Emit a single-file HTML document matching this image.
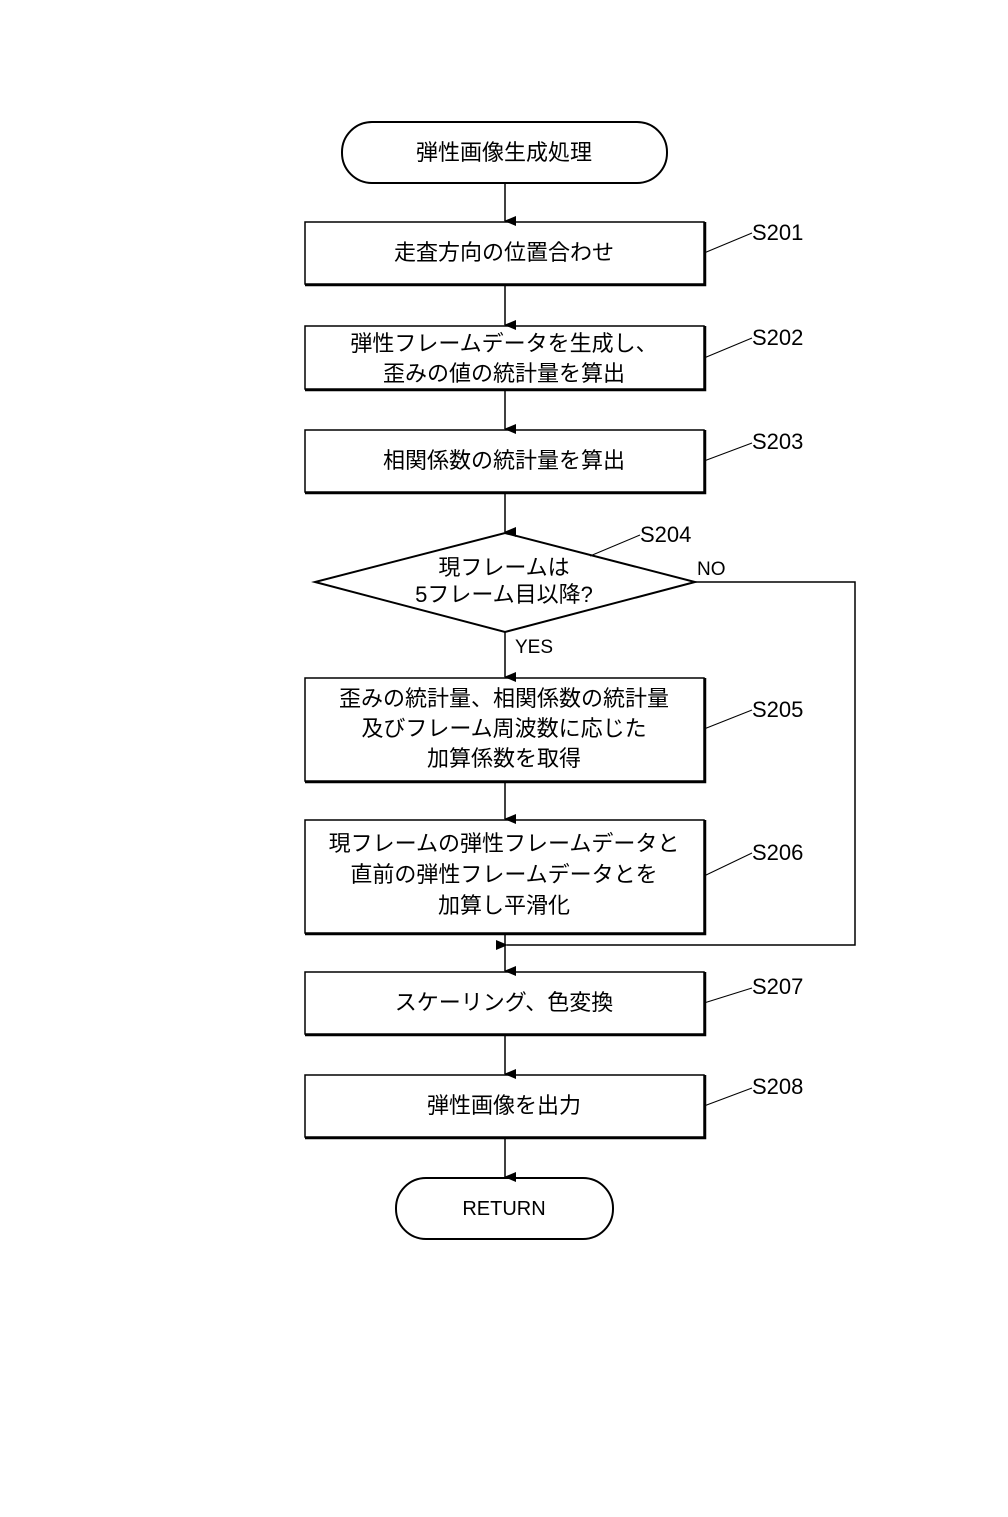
<!DOCTYPE html>
<html><head><meta charset="utf-8"><style>
html,body{margin:0;padding:0;background:#fff;}
svg text{font-family:"Liberation Sans","Noto Sans CJK JP",sans-serif;fill:#000;}
</style></head><body>
<svg width="1008" height="1512" viewBox="0 0 1008 1512" xmlns="http://www.w3.org/2000/svg">
<defs><marker id="a" markerWidth="10" markerHeight="12" refX="5" refY="11" orient="auto" markerUnits="userSpaceOnUse"><path d="M0,0 L10,0 L5,12 Z" fill="#000"/></marker>
<marker id="l" markerWidth="12" markerHeight="10" refX="1" refY="5" orient="auto" markerUnits="userSpaceOnUse"><path d="M12,0 L12,10 L0,5 Z" fill="#000"/></marker></defs>
<g fill="none" stroke="#000">
<rect x="342" y="122" width="325" height="61" rx="30" stroke-width="2"/>
<rect x="305" y="222" width="399" height="62" stroke-width="1.5"/>
<rect x="305" y="326" width="399" height="63" stroke-width="1.5"/>
<rect x="305" y="430" width="399" height="62" stroke-width="1.5"/>
<polygon points="505,533 695,582 505,632 315,582" stroke-width="2"/>
<rect x="305" y="678" width="399" height="103" stroke-width="1.5"/>
<rect x="305" y="820" width="399" height="113" stroke-width="1.5"/>
<rect x="305" y="972" width="399" height="62" stroke-width="1.5"/>
<rect x="305" y="1075" width="399" height="62" stroke-width="1.5"/>
<rect x="396" y="1178" width="217" height="61" rx="30" stroke-width="2"/>
<g stroke-width="1.5">
<path d="M305,285H705V222M305,390H705V326M305,493H705V430M305,782H705V678M305,934H705V820M305,1035H705V972M305,1138H705V1075" stroke-width="2.5"/>
<line x1="505" y1="183" x2="505" y2="221" marker-end="url(#a)"/>
<line x1="505" y1="285" x2="505" y2="325" marker-end="url(#a)"/>
<line x1="505" y1="390" x2="505" y2="429" marker-end="url(#a)"/>
<line x1="505" y1="493" x2="505" y2="532" marker-end="url(#a)"/>
<line x1="505" y1="632" x2="505" y2="677" marker-end="url(#a)"/>
<line x1="505" y1="782" x2="505" y2="819" marker-end="url(#a)"/>
<line x1="505" y1="934" x2="505" y2="971" marker-end="url(#a)"/>
<line x1="505" y1="1035" x2="505" y2="1074" marker-end="url(#a)"/>
<line x1="505" y1="1138" x2="505" y2="1177" marker-end="url(#a)"/>
<path d="M695,582H855V945H507" marker-end="url(#l)"/>
<line x1="704" y1="253" x2="752" y2="233" stroke-width="1"/>
<line x1="704" y1="358" x2="752" y2="338" stroke-width="1"/>
<line x1="704" y1="461" x2="752" y2="443" stroke-width="1"/>
<line x1="590" y1="556" x2="640" y2="535" stroke-width="1"/>
<line x1="704" y1="729" x2="752" y2="710" stroke-width="1"/>
<line x1="704" y1="876" x2="752" y2="853" stroke-width="1"/>
<line x1="704" y1="1003" x2="752" y2="988" stroke-width="1"/>
<line x1="704" y1="1106" x2="752" y2="1088" stroke-width="1"/>
</g></g>
<g font-size="22" text-anchor="middle">
<text x="504" y="160">弾性画像生成処理</text>
<text x="504" y="260">走査方向の位置合わせ</text>
<text x="504" y="351">弾性フレームデータを生成し、</text>
<text x="504" y="381">歪みの値の統計量を算出</text>
<text x="504" y="468">相関係数の統計量を算出</text>
<text x="504" y="575">現フレームは</text>
<text x="504" y="602">5フレーム目以降?</text>
<text x="504" y="706">歪みの統計量、相関係数の統計量</text>
<text x="504" y="736">及びフレーム周波数に応じた</text>
<text x="504" y="766">加算係数を取得</text>
<text x="504" y="851">現フレームの弾性フレームデータと</text>
<text x="504" y="882">直前の弾性フレームデータとを</text>
<text x="504" y="913">加算し平滑化</text>
<text x="504" y="1010">スケーリング、色変換</text>
<text x="504" y="1113">弾性画像を出力</text>
<text x="504" y="1215" font-size="20">RETURN</text>
</g>
<g font-size="22">
<text x="752" y="240">S201</text>
<text x="752" y="345">S202</text>
<text x="752" y="449">S203</text>
<text x="640" y="542">S204</text>
<text x="752" y="717">S205</text>
<text x="752" y="860">S206</text>
<text x="752" y="994">S207</text>
<text x="752" y="1094">S208</text>
<text x="697" y="575" font-size="19">NO</text>
<text x="515" y="653" font-size="19">YES</text>
</g>
</svg>
</body></html>
